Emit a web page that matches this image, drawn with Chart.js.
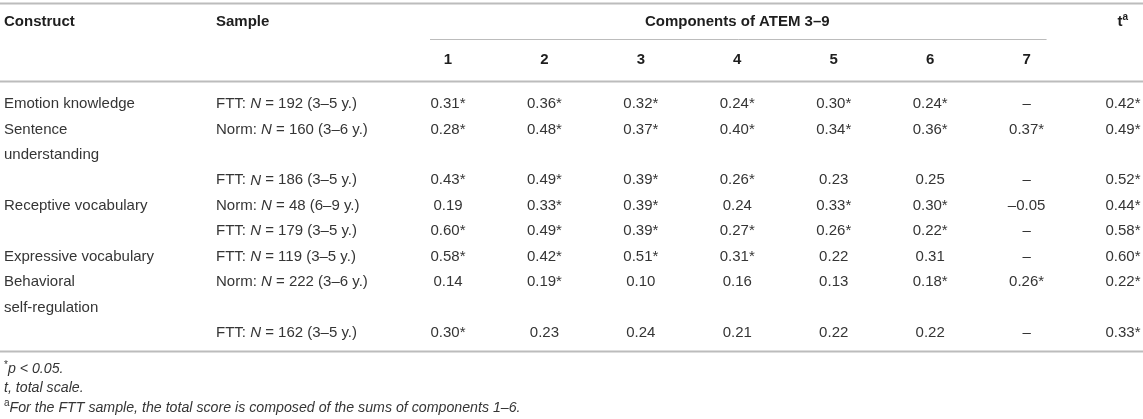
<!DOCTYPE html>
<html>
<head>
<meta charset="utf-8">
<script src="https://cdn.jsdelivr.net/npm/chart.js@4/dist/chart.umd.min.js"></script>
<style>
  body { margin: 0; background: #fff; }
  #wrap { width: 1143px; height: 419px; }
</style>
</head>
<body>
<div id="wrap"><canvas id="table-chart" width="1143" height="419"></canvas></div>
<script>
// table content
const constructs = [
  ["Emotion knowledge"],
  ["Sentence", "understanding"],
  ["Receptive vocabulary"],
  ["Expressive vocabulary"],
  ["Behavioral", "self-regulation"]
];
const constructLines = [0, 1, 4, 6, 7];

const samples = [
  "FTT: N = 192 (3–5 y.)",
  "Norm: N = 160 (3–6 y.)",
  "FTT: N = 186 (3–5 y.)",
  "Norm: N = 48 (6–9 y.)",
  "FTT: N = 179 (3–5 y.)",
  "FTT: N = 119 (3–5 y.)",
  "Norm: N = 222 (3–6 y.)",
  "FTT: N = 162 (3–5 y.)"
];
const sampleLines = [0, 1, 3, 4, 5, 6, 7, 9];

const columnLabels = ["1", "2", "3", "4", "5", "6", "7", "t"];

// one array per component column, "*" = p < 0.05, "–" = not available
const comp1 = ["0.31*", "0.28*", "0.43*", "0.19", "0.60*", "0.58*", "0.14", "0.30*"];
const comp2 = ["0.36*", "0.48*", "0.49*", "0.33*", "0.49*", "0.42*", "0.19*", "0.23"];
const comp3 = ["0.32*", "0.37*", "0.39*", "0.39*", "0.39*", "0.51*", "0.10", "0.24"];
const comp4 = ["0.24*", "0.40*", "0.26*", "0.24", "0.27*", "0.31*", "0.16", "0.21"];
const comp5 = ["0.30*", "0.34*", "0.23", "0.33*", "0.26*", "0.22", "0.13", "0.22"];
const comp6 = ["0.24*", "0.36*", "0.25", "0.30*", "0.22*", "0.31", "0.18*", "0.22"];
const comp7 = ["–", "0.37*", "–", "–0.05", "–", "–", "0.26*", "–"];
const total = ["0.42*", "0.49*", "0.52*", "0.44*", "0.58*", "0.60*", "0.22*", "0.33*"];

const columns = [comp1, comp2, comp3, comp4, comp5, comp6, comp7, total];

const FONT = "Liberation Sans, Arial, Helvetica, sans-serif";
const TEXT = "#353535";
const HEAD = "#1e1e1e";
const RULE = "#bcbcbc";

const datasets = columns.map((col, c) => ({
  label: columnLabels[c],
  cells: col,
  data: col.map((v, r) => ({ x: c + 1, y: sampleLines[r] })),
  pointRadius: 0,
  pointHoverRadius: 0
}));

// draw a sequence of [text, font] runs starting at x
function drawRuns(ctx, runs, x, y) {
  runs.forEach(([txt, font, dy]) => {
    ctx.font = font;
    ctx.fillText(txt, x, y + (dy || 0));
    x += ctx.measureText(txt).width;
  });
  return x;
}

function sampleRuns(s) {
  const i = s.indexOf("N =");
  return [
    [s.slice(0, i), "15px " + FONT],
    ["N", "italic 15px " + FONT],
    [s.slice(i + 1), "15px " + FONT]
  ];
}

const tablePlugin = {
  id: "tableText",
  afterDatasetsDraw(chart) {
    const ctx = chart.ctx;
    const xs = chart.scales.x, ys = chart.scales.y;
    const Y = v => ys.getPixelForValue(v);
    const X = v => xs.getPixelForValue(v);
    ctx.save();

    // rules
    ctx.strokeStyle = RULE;
    ctx.lineWidth = 2;
    [-3.97, -0.9, 9.7].forEach(v => {
      ctx.beginPath(); ctx.moveTo(0, Math.round(Y(v)) + 0.5); ctx.lineTo(1143, Math.round(Y(v)) + 0.5); ctx.stroke();
    });
    ctx.lineWidth = 1;
    ctx.beginPath();
    ctx.moveTo(X(1) - 18, Math.round(Y(-2.55)) + 0.5);
    ctx.lineTo(X(7) + 20, Math.round(Y(-2.55)) + 0.5);
    ctx.stroke();

    // header
    ctx.textBaseline = "middle";
    ctx.fillStyle = HEAD;
    ctx.font = "bold 15px " + FONT;
    ctx.textAlign = "left";
    ctx.fillText("Construct", 4, Y(-3.23));
    ctx.fillText("Sample", 216, Y(-3.23));
    ctx.textAlign = "center";
    ctx.fillText("Components of ATEM 3–9", (X(1) + X(7)) / 2, Y(-3.23));
    columnLabels.slice(0, 7).forEach((l, i) => ctx.fillText(l, X(i + 1), Y(-1.75)));
    ctx.textAlign = "left";
    const tw = ctx.measureText("t").width;
    const tx = X(8) - (tw + 6) / 2;
    drawRuns(ctx, [["t", "bold 15px " + FONT], ["a", "bold 10px " + FONT, -5]], tx, Y(-3.23));

    // body
    ctx.fillStyle = TEXT;
    ctx.font = "15px " + FONT;
    constructs.forEach((lines, i) => {
      lines.forEach((t, k) => ctx.fillText(t, 4, Y(constructLines[i] + k)));
    });
    samples.forEach((s, i) => drawRuns(ctx, sampleRuns(s), 216, Y(sampleLines[i])));

    ctx.textAlign = "center";
    ctx.font = "15px " + FONT;
    chart.data.datasets.forEach((ds, di) => {
      chart.getDatasetMeta(di).data.forEach((pt, r) => {
        ctx.fillText(ds.cells[r], pt.x, pt.y);
      });
    });

    // footnotes
    ctx.textAlign = "left";
    const it = "italic 14.2px " + FONT;
    drawRuns(ctx, [["*", "10px " + FONT, -3], ["p < 0.05.", it]], 4, Y(10.4));
    drawRuns(ctx, [["t, total scale.", it]], 4, Y(11.15));
    drawRuns(ctx, [["a", "10px " + FONT, -5],
      ["For the FTT sample, the total score is composed of the sums of components 1–6.", it]], 4, Y(11.95));
    ctx.restore();
  }
};

new Chart(document.getElementById("table-chart"), {
  type: "scatter",
  data: { datasets: datasets },
  options: {
    responsive: false,
    animation: false,
    events: [],
    layout: { padding: { left: 448, right: 20, top: 104, bottom: 86 } },
    plugins: { legend: { display: false }, tooltip: { enabled: false } },
    scales: {
      x: { type: "linear", min: 1, max: 8, display: false },
      y: { type: "linear", min: 0, max: 9, reverse: true, display: false }
    }
  },
  plugins: [tablePlugin]
});
</script>
</body>
</html>
